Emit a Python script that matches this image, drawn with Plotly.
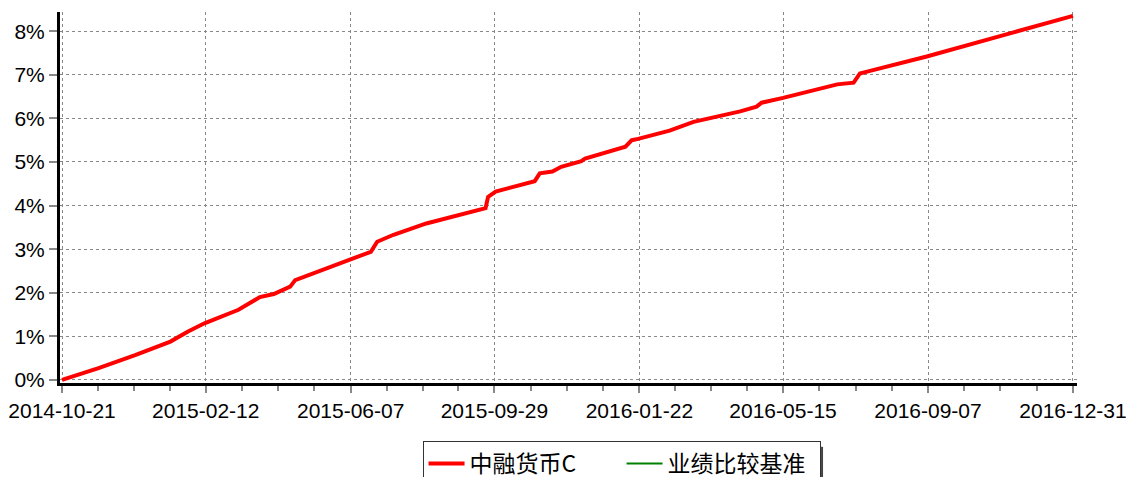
import plotly.graph_objects as go
import pandas as pd

dates = ["2014-10-21", "2014-11-19", "2014-12-18", "2015-01-15", "2015-01-29", "2015-02-11",
         "2015-03-10", "2015-03-27", "2015-04-07", "2015-04-20", "2015-04-24", "2015-05-19",
         "2015-06-06", "2015-06-21", "2015-06-23", "2015-06-28", "2015-07-11", "2015-08-06",
         "2015-09-06", "2015-09-22", "2015-09-24", "2015-09-30", "2015-10-31", "2015-11-04",
         "2015-11-14", "2015-11-21", "2015-12-07", "2015-12-10", "2016-01-11", "2016-01-16",
         "2016-01-21", "2016-02-15", "2016-03-05", "2016-03-31", "2016-04-11", "2016-04-24",
         "2016-04-28", "2016-05-15", "2016-06-11", "2016-06-27", "2016-07-10", "2016-07-15",
         "2016-07-23", "2016-09-06", "2016-11-11", "2016-12-31"]
fund_c = [0.00, 0.27, 0.57, 0.88, 1.11, 1.30,
          1.61, 1.90, 1.97, 2.14, 2.29, 2.56,
          2.77, 2.92, 2.94, 3.17, 3.33, 3.59,
          3.81, 3.94, 4.20, 4.32, 4.56, 4.74,
          4.78, 4.89, 5.02, 5.08, 5.35, 5.50,
          5.53, 5.72, 5.92, 6.09, 6.16, 6.27,
          6.36, 6.47, 6.65, 6.78, 6.82, 7.03,
          7.09, 7.42, 7.95, 8.35]

tick_dates = ["2014-10-21", "2015-02-12", "2015-06-07", "2015-09-29",
              "2016-01-22", "2016-05-15", "2016-09-07", "2016-12-31"]
y_ticks = [0, 1, 2, 3, 4, 5, 6, 7, 8]
y_labels = [f"{v}%" for v in y_ticks]

# minor ticks: 3 between each pair of major ticks
td = pd.to_datetime(tick_dates)
minor = []
for a, b in zip(td[:-1], td[1:]):
    for k in (1, 2, 3):
        minor.append((a + (b - a) * k / 4).strftime("%Y-%m-%d %H:%M"))

fig = go.Figure()
fig.add_trace(go.Scatter(x=dates, y=fund_c, mode="lines", name="中融货币C",
                         line=dict(color="#ff0000", width=4)))
fig.add_trace(go.Scatter(x=[None], y=[None], mode="lines", name="业绩比较基准",
                         line=dict(color="#008000", width=2)))

x0 = pd.Timestamp("2014-10-21") - pd.Timedelta(days=1.6)
x1 = pd.Timestamp("2016-12-31") + pd.Timedelta(days=3.2)

fig.update_layout(
    width=1126, height=477,
    margin=dict(l=60, r=49, t=12, b=94),
    plot_bgcolor="white", paper_bgcolor="white",
    font=dict(family="Liberation Sans, Arial, sans-serif", size=20, color="black"),
    showlegend=True,
    legend=dict(orientation="h", xref="container", yref="container",
                x=0.552, xanchor="center", y=0.0755, yanchor="top",
                bordercolor="#333", borderwidth=1,
                font=dict(family="Noto Sans CJK SC, sans-serif", size=23, color="black"),
                entrywidth=147, entrywidthmode="pixels",
                itemwidth=36, tracegroupgap=0),
    xaxis=dict(range=[x0, x1], tickmode="array", tickvals=tick_dates, ticktext=tick_dates,
               showgrid=True, gridcolor="#888", griddash="dot", gridwidth=1,
               showline=True, linecolor="black", linewidth=3,
               ticks="outside", ticklen=7, tickcolor="#888", tickwidth=1.5,
               minor=dict(tickmode="array", tickvals=minor, ticks="outside", ticklen=5,
                          tickcolor="#888", tickwidth=1.5, showgrid=False),
               zeroline=False, automargin=False, ticklabeloverflow="allow",
               tickfont=dict(size=21)),
    yaxis=dict(range=[-0.07, 8.44], tickmode="array", tickvals=y_ticks, ticktext=y_labels,
               showgrid=True, gridcolor="#888", griddash="dot", gridwidth=1,
               showline=True, linecolor="black", linewidth=3,
               ticks="outside", ticklen=8, tickcolor="#888", tickwidth=1.5,
               zeroline=False, automargin=False, tickfont=dict(size=21)),
)
# legend box shadow on the right edge
fig.add_shape(type="line", xref="paper", yref="paper",
              x0=0.7493, x1=0.7493, y0=-0.172, y1=-0.26,
              line=dict(color="#444", width=2))
fig.write_html("out.html", config={"displayModeBar": False},
               post_script="document.body.style.margin='0';")
